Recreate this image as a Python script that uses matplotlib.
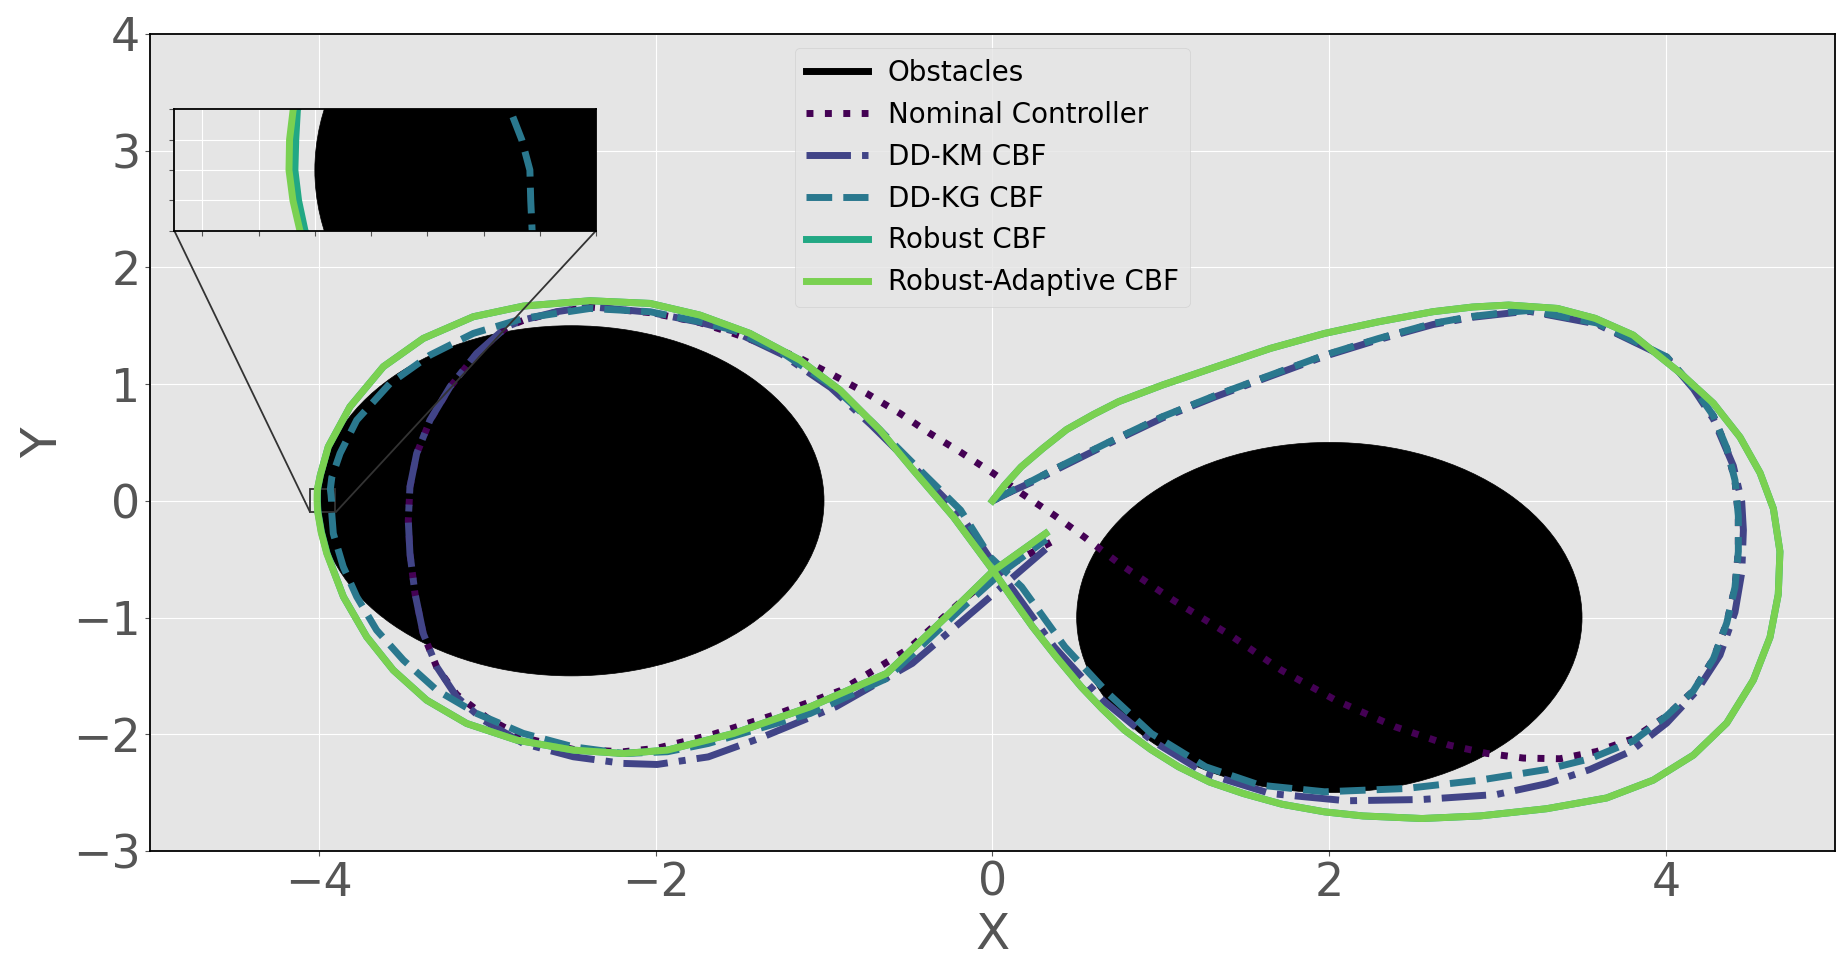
import numpy as np
import matplotlib
matplotlib.use("Agg")
import matplotlib.pyplot as plt
from matplotlib.patches import Circle
from matplotlib.lines import Line2D
from matplotlib.ticker import MultipleLocator, NullFormatter
from mpl_toolkits.axes_grid1.inset_locator import mark_inset

# obstacles: (centre x, centre y, radius)
obstacles = [(-2.5, 0.0, 1.5), (2.0, -1.0, 1.5)]

# trajectories
nominal_x = [0.0, 0.12, 0.243, 0.366, 0.687, 1.008, 1.33, 1.651, 1.972, 2.293, 2.615, 2.85, 3.097,
             3.191, 3.587, 4.003, 4.161, 4.28, 4.359, 4.408, 4.428, 4.428, 4.408, 4.359, 4.28,
             4.161, 4.003, 3.80, 3.587, 3.369, 3.152, 2.934, 2.711, 2.39, 2.037, 1.715, 1.426,
             1.073, 0.752, 0.543, 0.366, 0.173, 0.005, -0.193, -0.371, -0.549, -0.747, -0.945,
             -1.142, -1.34, -1.538, -1.74, -2.033, -2.389, -2.587, -2.785, -2.884, -3.062, -3.22,
             -3.339, -3.418, -3.458, -3.468, -3.458, -3.428, -3.379, -3.299, -3.181, -3.0, -2.785,
             -2.488, -2.191, -1.99, -1.657, -1.264, -0.9, -0.5, -0.2, 0.05, 0.352]
nominal_y = [0.0, 0.088, 0.175, 0.268, 0.497, 0.717, 0.903, 1.074, 1.245, 1.388, 1.517, 1.577,
             1.617, 1.628, 1.521, 1.23, 0.97, 0.725, 0.45, 0.174, -0.129, -0.435, -0.741, -1.047,
             -1.353, -1.628, -1.842, -2.04, -2.148, -2.21, -2.204, -2.164, -2.093, -1.936, -1.708,
             -1.451, -1.165, -0.851, -0.537, -0.308, -0.123, 0.063, 0.235, 0.42, 0.577, 0.749,
             0.92, 1.077, 1.22, 1.334, 1.434, 1.528, 1.612, 1.66, 1.617, 1.546, 1.488, 1.26, 0.974,
             0.688, 0.403, 0.117, -0.169, -0.454, -0.797, -1.14, -1.425, -1.66, -1.86, -2.03,
             -2.13, -2.15, -2.12, -2.0, -1.82, -1.625, -1.27, -0.88, -0.59, -0.351]

ddkm_x = [0.0, 0.12, 0.25, 0.37, 0.69, 1.01, 1.33, 1.65, 1.972, 2.293, 2.615, 2.85, 3.097, 3.191,
          3.587, 4.003, 4.161, 4.28, 4.398, 4.448, 4.458, 4.448, 4.408, 4.319, 4.181, 4.003, 3.785,
          3.547, 3.29, 2.993, 2.55, 2.101, 1.651, 1.266, 0.944, 0.655, 0.366, 0.109, 0.005, -0.114,
          -0.2, -0.46, -0.72, -0.96, -1.25, -1.54, -1.74, -2.033, -2.389, -2.587, -2.785, -2.884,
          -3.062, -3.22, -3.339, -3.418, -3.458, -3.468, -3.458, -3.428, -3.379, -3.299, -3.181,
          -3.022, -2.785, -2.488, -2.191, -1.991, -1.687, -1.385, -0.93, -0.476, -0.082, 0.332]
ddkm_y = [0.0, 0.085, 0.17, 0.26, 0.49, 0.71, 0.895, 1.067, 1.238, 1.381, 1.51, 1.572, 1.612, 1.622,
          1.515, 1.225, 0.96, 0.70, 0.30, -0.006, -0.251, -0.618, -0.955, -1.322, -1.628, -1.904,
          -2.149, -2.302, -2.424, -2.516, -2.559, -2.57, -2.508, -2.336, -2.051, -1.708, -1.251,
          -0.737, -0.536, -0.279, -0.1, 0.28, 0.65, 0.97, 1.255, 1.455, 1.53, 1.615, 1.663, 1.62,
          1.549, 1.491, 1.263, 0.977, 0.691, 0.406, 0.12, -0.166, -0.451, -0.794, -1.137, -1.422,
          -1.679, -1.879, -2.079, -2.193, -2.25, -2.259, -2.194, -2.036, -1.765, -1.393, -0.908,
          -0.394]

ddkg_x = [0.0, 0.12, 0.243, 0.366, 0.687, 1.008, 1.33, 1.651, 1.972, 2.293, 2.615, 2.85, 3.097,
          3.191, 3.587, 4.003, 4.161, 4.28, 4.359, 4.408, 4.428, 4.428, 4.408, 4.359, 4.28, 4.161,
          4.003, 3.805, 3.547, 3.29, 2.894, 2.454, 1.972, 1.587, 1.266, 0.944, 0.687, 0.43, 0.173,
          -0.014, -0.189, -0.45, -0.707, -0.945, -1.242, -1.538, -1.737, -2.033, -2.389, -2.785,
          -3.082, -3.339, -3.576, -3.774, -3.873, -3.922, -3.9306, -3.9264, -3.9235, -3.9232,
          -3.9227, -3.913, -3.854, -3.774, -3.656, -3.497, -3.299, -3.062, -2.785, -2.488, -2.191,
          -1.93, -1.687, -1.082, -0.628, -0.173, 0.05, 0.32]
ddkg_y = [0.0, 0.09, 0.177, 0.27, 0.50, 0.72, 0.906, 1.077, 1.248, 1.391, 1.52, 1.58, 1.62, 1.631,
          1.524, 1.233, 0.973, 0.728, 0.453, 0.177, -0.129, -0.435, -0.741, -1.047, -1.353, -1.628,
          -1.842, -2.057, -2.21, -2.302, -2.393, -2.465, -2.493, -2.436, -2.279, -1.994, -1.651,
          -1.251, -0.737, -0.48, -0.08, 0.291, 0.663, 0.977, 1.263, 1.463, 1.534, 1.62, 1.648,
          1.563, 1.434, 1.248, 1.006, 0.691, 0.406, 0.2, 0.1, 0.05, 0.0, -0.05, -0.1, -0.28,
          -0.565, -0.822, -1.108, -1.365, -1.622, -1.822, -1.993, -2.108, -2.165, -2.15, -2.079,
          -1.822, -1.522, -0.908, -0.62, -0.33]

robust_x = [0.0, 0.07, 0.17, 0.30, 0.44, 0.60, 0.75, 1.008, 1.33, 1.651, 1.972, 2.293, 2.615, 2.85,
            3.064, 3.354, 3.578, 3.803, 4.082, 4.28, 4.438, 4.557, 4.636, 4.675, 4.665, 4.616,
            4.517, 4.359, 4.161, 3.923, 3.646, 3.29, 2.894, 2.55, 2.2, 1.972, 1.72, 1.49, 1.29,
            1.105, 0.94, 0.784, 0.65, 0.527, 0.38, 0.238, 0.12, 0.005, -0.232, -0.47, -0.668,
            -0.905, -1.142, -1.44, -1.737, -2.033, -2.389, -2.785, -3.082, -3.379, -3.616, -3.814,
            -3.943, -3.99, -4.0062, -4.0068, -4.0071, -4.0058, -4.0035, -3.983, -3.95, -3.853,
            -3.715, -3.557, -3.359, -3.121, -2.825, -2.488, -2.191, -1.93, -1.536, -1.082, -0.628,
            -0.279, 0.005, 0.316]
robust_y = [0.0, 0.13, 0.29, 0.45, 0.61, 0.74, 0.85, 0.991, 1.149, 1.306, 1.434, 1.534, 1.62, 1.66,
            1.677, 1.648, 1.563, 1.42, 1.096, 0.835, 0.545, 0.239, -0.067, -0.435, -0.802, -1.169,
            -1.536, -1.904, -2.179, -2.393, -2.546, -2.638, -2.70, -2.722, -2.70, -2.665, -2.60,
            -2.508, -2.41, -2.279, -2.13, -1.965, -1.78, -1.594, -1.34, -1.079, -0.84, -0.6,
            -0.137, 0.263, 0.606, 0.948, 1.205, 1.434, 1.591, 1.691, 1.714, 1.668, 1.577, 1.391,
            1.149, 0.806, 0.463, 0.22, 0.1, 0.05, 0.0, -0.05, -0.1, -0.27, -0.451, -0.822,
            -1.165, -1.451, -1.708, -1.908, -2.05, -2.136, -2.165, -2.136, -1.993, -1.765, -1.479,
            -1.0, -0.6, -0.28]

radapt_x = [0.0, 0.07, 0.17, 0.30, 0.44, 0.60, 0.75, 1.008, 1.33, 1.651, 1.972, 2.293, 2.615, 2.85,
            3.064, 3.354, 3.578, 3.803, 4.082, 4.28, 4.438, 4.557, 4.636, 4.675, 4.665, 4.616,
            4.517, 4.359, 4.161, 3.923, 3.646, 3.29, 2.894, 2.55, 2.2, 1.972, 1.72, 1.49, 1.29,
            1.105, 0.94, 0.784, 0.65, 0.527, 0.38, 0.238, 0.12, 0.005, -0.232, -0.47, -0.668,
            -0.905, -1.142, -1.44, -1.737, -2.033, -2.389, -2.785, -3.082, -3.379, -3.616, -3.814,
            -3.943, -3.99, -4.0077, -4.0090, -4.0092, -4.0078, -4.0053, -3.985, -3.952, -3.853,
            -3.715, -3.557, -3.359, -3.121, -2.825, -2.488, -2.191, -1.93, -1.536, -1.082, -0.628,
            -0.279, 0.005, 0.316]
radapt_y = [0.0, 0.13, 0.29, 0.45, 0.61, 0.74, 0.85, 0.991, 1.149, 1.306, 1.434, 1.534, 1.62, 1.66,
            1.677, 1.648, 1.563, 1.42, 1.096, 0.835, 0.545, 0.239, -0.067, -0.435, -0.802, -1.169,
            -1.536, -1.904, -2.179, -2.393, -2.546, -2.638, -2.70, -2.722, -2.70, -2.665, -2.60,
            -2.508, -2.41, -2.279, -2.13, -1.965, -1.78, -1.594, -1.34, -1.079, -0.84, -0.6,
            -0.137, 0.263, 0.606, 0.948, 1.205, 1.434, 1.591, 1.691, 1.714, 1.668, 1.577, 1.391,
            1.149, 0.806, 0.463, 0.22, 0.1, 0.05, 0.0, -0.05, -0.1, -0.27, -0.451, -0.822,
            -1.165, -1.451, -1.708, -1.908, -2.05, -2.136, -2.165, -2.136, -1.993, -1.765, -1.479,
            -1.0, -0.6, -0.28]

labels = ["Nominal Controller", "DD-KM CBF", "DD-KG CBF", "Robust CBF", "Robust-Adaptive CBF"]
styles = [":", "-.", "--", "-", "-"]
paths = [(nominal_x, nominal_y), (ddkm_x, ddkm_y), (ddkg_x, ddkg_y),
         (robust_x, robust_y), (radapt_x, radapt_y)]

plt.style.use("ggplot")
cmap = plt.cm.viridis
colors = [cmap(i / 5) for i in range(5)]

fig = plt.figure(figsize=(18.48, 9.77), dpi=100)
ax = fig.add_axes([0.08128, 0.1290, 0.91152, 0.8363])
axins = ax.inset_axes([0.01431, 0.7591, 0.2503, 0.1486])

for a in (ax, axins):
    for cx, cy, r in obstacles:
        a.add_patch(Circle((cx, cy), r, facecolor="black", edgecolor="black", lw=0.5, zorder=1))
    for (px, py), lab, ls, c in zip(paths, labels, styles, colors):
        a.plot(px, py, ls=ls, color=c, lw=5, label=lab, zorder=2, solid_joinstyle="round")
    for s in a.spines.values():
        s.set_color("black")
        s.set_linewidth(1.3)

ax.set_xlim(-5, 5)
ax.set_ylim(-3, 4)
ax.xaxis.set_major_locator(MultipleLocator(2))
ax.yaxis.set_major_locator(MultipleLocator(1))
ax.tick_params(labelsize=33)
ax.set_xlabel("X", fontsize=36)
ax.set_ylabel("Y", fontsize=36)

axins.set_xlim(-4.05, -3.90)
axins.set_ylim(-0.1, 0.1)
axins.xaxis.set_major_locator(MultipleLocator(0.02))
axins.yaxis.set_major_locator(MultipleLocator(0.05))
axins.xaxis.set_major_formatter(NullFormatter())
axins.yaxis.set_major_formatter(NullFormatter())
mark_inset(ax, axins, loc1=3, loc2=4, fc="none", ec="0.2", lw=1.3)

handles = [Line2D([], [], color="black", lw=5, label="Obstacles")]
handles += ax.get_lines()[:5]
ax.legend(handles=handles, loc="upper center", fontsize=20, handlelength=2.25,
          handletextpad=0.7)

fig.savefig("out.png", dpi=100)
